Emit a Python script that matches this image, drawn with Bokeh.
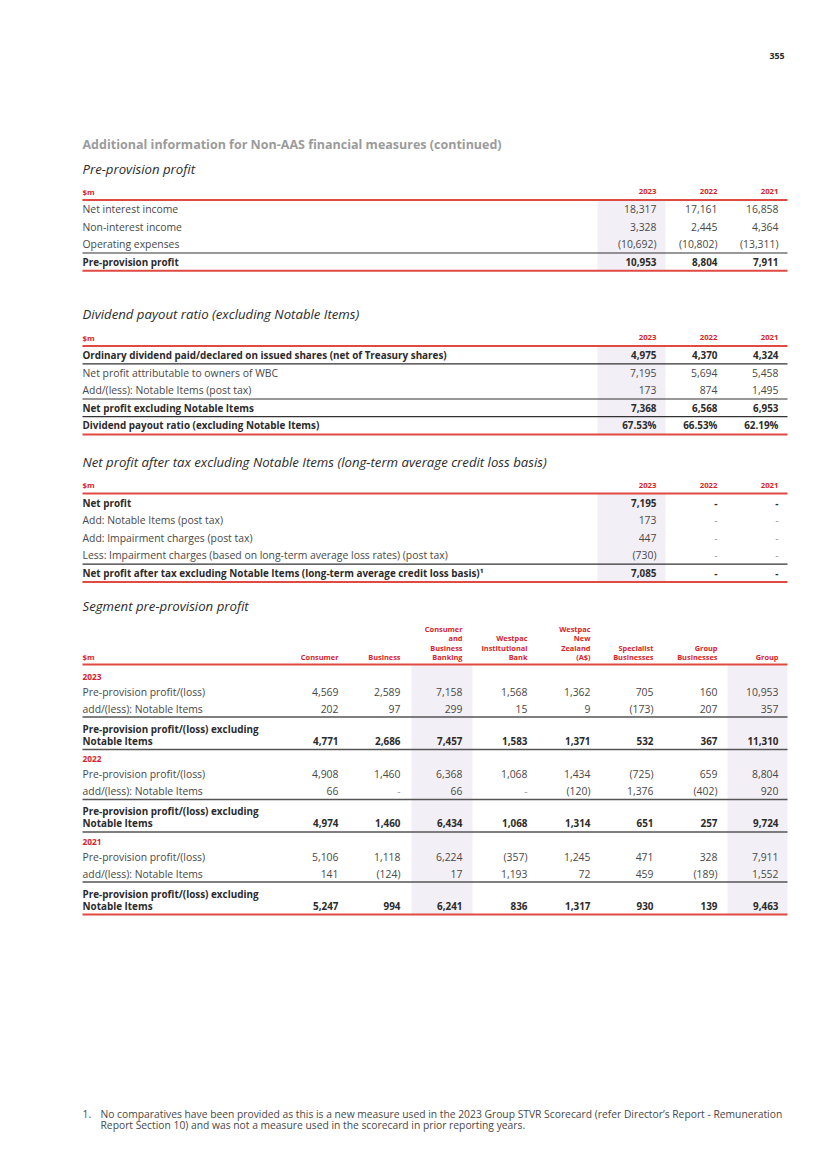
from bokeh.plotting import figure
from bokeh.models import Range1d, ColumnDataSource
from bokeh.core.properties import value
from bokeh.embed import file_html
from bokeh.resources import INLINE

# ---------------- data ----------------
page_number = "355"
page_title = "Additional information for Non-AAS financial measures (continued)"
years = ["2023", "2022", "2021"]

t1_title = "Pre-provision profit"
t1_rows = ["Net interest income", "Non-interest income", "Operating expenses", "Pre-provision profit"]
t1_bold = [False, False, False, True]
t1_2023 = [18317, 3328, -10692, 10953]
t1_2022 = [17161, 2445, -10802, 8804]
t1_2021 = [16858, 4364, -13311, 7911]

t2_title = "Dividend payout ratio (excluding Notable Items)"
t2_rows = ["Ordinary dividend paid/declared on issued shares (net of Treasury shares)",
           "Net profit attributable to owners of WBC",
           "Add/(less): Notable Items (post tax)",
           "Net profit excluding Notable Items",
           "Dividend payout ratio (excluding Notable Items)"]
t2_bold = [True, False, False, True, True]
t2_2023 = [4975, 7195, 173, 7368, "67.53%"]
t2_2022 = [4370, 5694, 874, 6568, "66.53%"]
t2_2021 = [4324, 5458, 1495, 6953, "62.19%"]

t3_title = "Net profit after tax excluding Notable Items (long-term average credit loss basis)"
t3_rows = ["Net profit",
           "Add: Notable Items (post tax)",
           "Add: Impairment charges (post tax)",
           "Less: Impairment charges (based on long-term average loss rates) (post tax)",
           "Net profit after tax excluding Notable Items (long-term average credit loss basis)\u00b9"]
t3_bold = [True, False, False, False, True]
t3_2023 = [7195, 173, 447, -730, 7085]
t3_2022 = [None, None, None, None, None]
t3_2021 = [None, None, None, None, None]

t4_title = "Segment pre-provision profit"
seg_headers = [["Consumer"], ["Business"], ["Consumer", "and", "Business", "Banking"],
               ["Westpac", "Institutional", "Bank"], ["Westpac", "New", "Zealand", "(A$)"],
               ["Specialist", "Businesses"], ["Group", "Businesses"], ["Group"]]
seg_row_labels = ["Pre-provision profit/(loss)", "add/(less): Notable Items"]
seg_total_label = ["Pre-provision profit/(loss) excluding", "Notable Items"]
seg_ppp_2023 = [4569, 2589, 7158, 1568, 1362, 705, 160, 10953]
seg_ni_2023 = [202, 97, 299, 15, 9, -173, 207, 357]
seg_ex_2023 = [4771, 2686, 7457, 1583, 1371, 532, 367, 11310]
seg_ppp_2022 = [4908, 1460, 6368, 1068, 1434, -725, 659, 8804]
seg_ni_2022 = [66, None, 66, None, -120, 1376, -402, 920]
seg_ex_2022 = [4974, 1460, 6434, 1068, 1314, 651, 257, 9724]
seg_ppp_2021 = [5106, 1118, 6224, -357, 1245, 471, 328, 7911]
seg_ni_2021 = [141, -124, 17, 1193, 72, 459, -189, 1552]
seg_ex_2021 = [5247, 994, 6241, 836, 1317, 930, 139, 9463]

footnote_num = "1."
footnote_lines = ["No comparatives have been provided as this is a new measure used in the 2023 Group STVR Scorecard (refer Director\u2019s Report - Remuneration",
                  "Report Section 10) and was not a measure used in the scorecard in prior reporting years."]

# ---------------- style ----------------
FONT = "Open Sans"
RED = "#d8232a"
RED_LINE = "#e04a43"
DARK = "#2b2b2b"
BODY = "#484848"
SHADE = "#f3eff6"
BODY_SIZE = "10.4px"
BOLD_SIZE = "9.9px"
HEAD_SIZE = "7.8px"
SEG_HEAD_SIZE = "7.4px"
ITAL_SIZE = "13.2px"
LEFT = 82
RIGHT = 787

W, H = 809, 1152
p = figure(width=W, height=H, output_backend="svg", toolbar_location=None,
           x_range=Range1d(0, W), y_range=Range1d(H, 0),
           min_border=0, outline_line_color=None, background_fill_color="white",
           border_fill_color="white")
p.axis.visible = False
p.grid.visible = False

texts = []   # (x, y, text, style, size, color, align)
quads = []   # (left, right, top, bottom)
segs = []    # (x0, x1, y, color, width)


def fmt(v):
    if v is None:
        return "-"
    if isinstance(v, str):
        return v
    if v < 0:
        return "({:,})".format(-v)
    return "{:,}".format(v)


def add_text(x, y, t, style="normal", size=BODY_SIZE, color=BODY, align="left"):
    texts.append((x, y, t, style, size, color, align))


# page header
add_text(784, 55, page_number, "bold", "8.8px", DARK, "right")
add_text(LEFT, 144, page_title, "bold", "12.5px", "#9b9b9b", "left")

year_x = [656, 717, 778]


def draw_table(title, title_y, header_y, labels, bold, cols, rules):
    add_text(LEFT, title_y, title, "italic", ITAL_SIZE, DARK)
    top = header_y + 8.5
    rows_y = [header_y + 17.5 + 17.6 * i for i in range(len(labels))]
    bottom = rows_y[-1] + 9
    quads.append((597, 665, top, bottom))
    add_text(LEFT, header_y, "$m", "bold", HEAD_SIZE, RED)
    for j, yr in enumerate(years):
        add_text(year_x[j], header_y, yr, "bold", HEAD_SIZE, RED, "right")
    segs.append((LEFT, RIGHT, top, RED_LINE, 2))
    segs.append((LEFT, RIGHT, bottom, RED_LINE, 2))
    for i in rules:
        segs.append((LEFT, RIGHT, rows_y[i] + 8.8, "#333333", 1.2))
    for i, lab in enumerate(labels):
        st = "bold" if bold[i] else "normal"
        sz = BOLD_SIZE if bold[i] else BODY_SIZE
        col = DARK if bold[i] else BODY
        add_text(LEFT, rows_y[i], lab, st, sz, col)
        for j, c in enumerate(cols):
            v = c[i]
            vc = col
            if v is None and not bold[i]:
                vc = "#9a9a9a"
            add_text(year_x[j], rows_y[i], fmt(v), st, sz, vc, "right")


draw_table(t1_title, 168, 191, t1_rows, t1_bold, [t1_2023, t1_2022, t1_2021], [2])
draw_table(t2_title, 313, 337, t2_rows, t2_bold, [t2_2023, t2_2022, t2_2021], [0, 2, 3])
draw_table(t3_title, 461, 484.5, t3_rows, t3_bold, [t3_2023, t3_2022, t3_2021], [3])

# segment table
seg_x = [338, 400, 462, 527, 590, 653, 717, 778]
add_text(LEFT, 605, t4_title, "italic", ITAL_SIZE, DARK)
hdr_bottom = 656.5
add_text(LEFT, hdr_bottom, "$m", "bold", HEAD_SIZE, RED)
for j, lines in enumerate(seg_headers):
    n = len(lines)
    for k, ln in enumerate(lines):
        add_text(seg_x[j], hdr_bottom - 9.5 * (n - 1 - k), ln, "bold", SEG_HEAD_SIZE, RED, "right")
seg_top = 664
segs.append((LEFT, RIGHT, seg_top, RED_LINE, 2))
blocks = [("2023", seg_ppp_2023, seg_ni_2023, seg_ex_2023),
          ("2022", seg_ppp_2022, seg_ni_2022, seg_ex_2022),
          ("2021", seg_ppp_2021, seg_ni_2021, seg_ex_2021)]
y0 = 676
seg_bottom = None
for b, (yr, ppp, ni, ex) in enumerate(blocks):
    yb = y0 + 82.5 * b
    add_text(LEFT, yb, yr, "bold", "8.3px", RED)
    for r, (lab, vals) in enumerate(zip(seg_row_labels, [ppp, ni])):
        yy = yb + 15 + 17 * r
        add_text(LEFT, yy, lab)
        for j, v in enumerate(vals):
            add_text(seg_x[j], yy, fmt(v), "normal", BODY_SIZE,
                     "#9a9a9a" if v is None else BODY, "right")
    segs.append((LEFT, RIGHT, yb + 40.5, "#555555", 1.5))
    add_text(LEFT, yb + 52, seg_total_label[0], "bold", BOLD_SIZE, DARK)
    add_text(LEFT, yb + 64, seg_total_label[1], "bold", BOLD_SIZE, DARK)
    for j, v in enumerate(ex):
        add_text(seg_x[j], yb + 64, fmt(v), "bold", BOLD_SIZE, DARK, "right")
    if b < len(blocks) - 1:
        segs.append((LEFT, RIGHT, yb + 73, "#555555", 1.5))
    else:
        seg_bottom = yb + 73
        segs.append((LEFT, RIGHT, seg_bottom, RED_LINE, 2))
quads.append((411, 472, seg_top + 1, seg_bottom))
quads.append((727, RIGHT, seg_top + 1, seg_bottom))

# footnote
add_text(LEFT, 1113, footnote_num, "normal", "10.3px", BODY)
add_text(100, 1113, footnote_lines[0], "normal", "10.3px", BODY)
add_text(100, 1124.5, footnote_lines[1], "normal", "10.3px", BODY)

# ---------------- render ----------------
qs = ColumnDataSource(dict(left=[q[0] for q in quads], right=[q[1] for q in quads],
                           top=[q[2] for q in quads], bottom=[q[3] for q in quads]))
p.quad(left="left", right="right", top="top", bottom="bottom", source=qs,
       fill_color=SHADE, line_color=None)

for s in segs:
    p.segment(x0=[s[0]], y0=[s[2]], x1=[s[1]], y1=[s[2]], line_color=s[3], line_width=s[4])

groups = {}
for (x, y, t, st, sz, c, al) in texts:
    groups.setdefault((st, sz, c, al), []).append((x, y, t))
for (st, sz, c, al), items in groups.items():
    src = ColumnDataSource(dict(x=[i[0] for i in items], y=[i[1] for i in items],
                                text=[i[2] for i in items]))
    p.text(x="x", y="y", text="text", source=src, text_font=value(FONT),
           text_font_style=st, text_font_size=sz, text_color=c,
           text_align=al, text_baseline="middle")

open("out.html", "w").write(file_html(p, INLINE))
